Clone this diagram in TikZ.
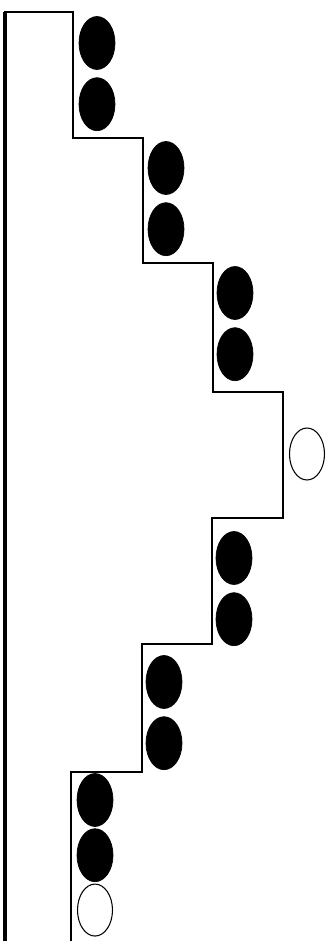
\documentclass[tikz,border=0pt]{standalone}
\usepackage{tikz}
\usetikzlibrary{shapes.geometric,positioning}

\begin{document}
\begin{tikzpicture}[x=0.02cm,y=-0.02cm,node distance=1.5mm,ball/.style={ellipse,draw,fill=black,minimum width=7.2mm,minimum height=10.6mm,inner sep=0pt},hole/.style={ellipse,draw,line width=0.6pt,fill=white,minimum width=7mm,minimum height=10.4mm,inner sep=0pt},wall/.style={line width=1.6pt,line join=miter}]
\useasboundingbox (0,0) rectangle (335,941);
\draw[wall] (5,941) |- (73,12) |- (143,138) |- (213,263) |- (283,392) |- (212,518) |- (142,644) |- (71,772) -- (71,941);
\draw[line width=1.9pt] (5,941) -- (5,12);
\node[ball] (up1a) at (97,43) {};
\node[ball,below=of up1a] (up1b) {};
\node[ball] (up2a) at (166,168) {};
\node[ball,below=of up2a] (up2b) {};
\node[ball] (up3a) at (235,293) {};
\node[ball,below=of up3a] (up3b) {};
\node[hole] (tophole) at (307,454) {};
\node[ball] (down3a) at (234,558) {};
\node[ball,below=of down3a] (down3b) {};
\node[ball] (down2a) at (164,682) {};
\node[ball,below=of down2a] (down2b) {};
\node[ball] (down1a) at (95,800) {};
\node[ball,below=0.3mm of down1a] (down1b) {};
\node[hole,below=0.3mm of down1b] (bothole) {};
\end{tikzpicture}
\end{document}
